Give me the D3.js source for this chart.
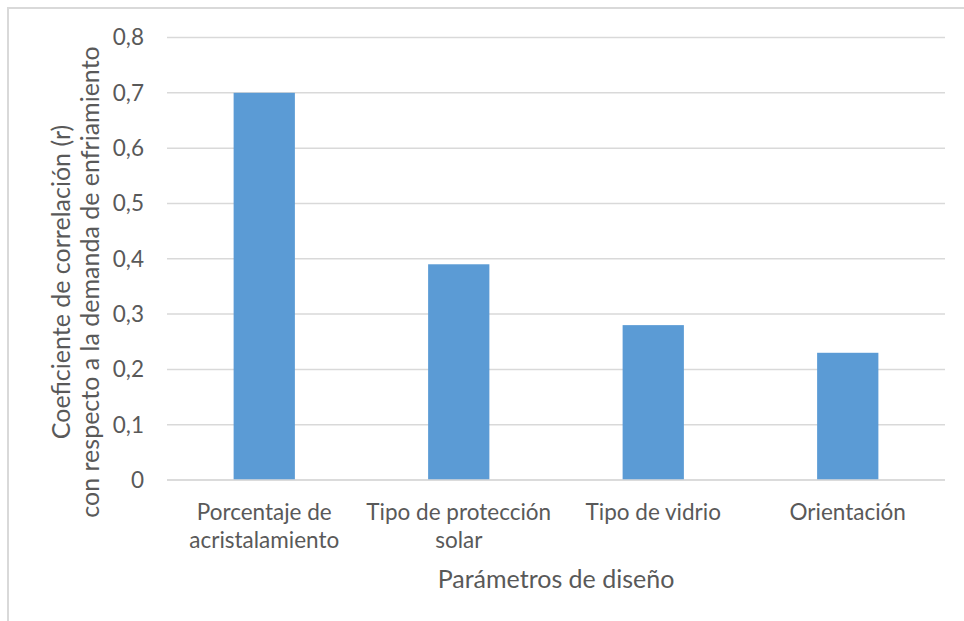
<!DOCTYPE html>
<html>
<head>
<meta charset="utf-8">
<script src="https://cdn.jsdelivr.net/npm/d3@7"></script>
<style>
  html, body { margin: 0; padding: 0; background: #fff; }
  svg { display: block; }
  text { font-family: Lato, "Open Sans", sans-serif; fill: #595959; }
</style>
</head>
<body>
<svg id="chart" width="964" height="621"></svg>
<script>
// Correlation of each design parameter with cooling demand
const categories = [
  "Porcentaje de acristalamiento",
  "Tipo de protección solar",
  "Tipo de vidrio",
  "Orientación"
];
const categoryLines = [
  ["Porcentaje de", "acristalamiento"],
  ["Tipo de protección", "solar"],
  ["Tipo de vidrio"],
  ["Orientación"]
];
const values = [0.70, 0.39, 0.28, 0.23];
const yTicks = [0, 0.1, 0.2, 0.3, 0.4, 0.5, 0.6, 0.7, 0.8];
const yTitleLines = ["Coeficiente de correlación (r)", "con respecto a la demanda de enfriamiento"];
const xTitle = "Parámetros de diseño";

const svg = d3.select("#chart");
const W = 964, H = 621;
const plot = { left: 167, right: 945, top: 37.5, bottom: 480 };

// outer chart frame (right and bottom edges fall outside the canvas)
svg.append("rect")
  .attr("x", 8).attr("y", 8)
  .attr("width", W + 20).attr("height", H + 20)
  .attr("fill", "#fff")
  .attr("stroke", "#d9d9d9").attr("stroke-width", 2);

const x = d3.scaleBand()
  .domain(categories)
  .range([plot.left, plot.right])
  .padding(0);
const barW = x.bandwidth() * 0.315;

const y = d3.scaleLinear()
  .domain([0, 0.8])
  .range([plot.bottom, plot.top]);

// horizontal gridlines
svg.append("g")
  .selectAll("line")
  .data(yTicks)
  .join("line")
  .attr("x1", plot.left).attr("x2", plot.right)
  .attr("y1", d => y(d)).attr("y2", d => y(d))
  .attr("stroke", "#d9d9d9").attr("stroke-width", 1.5);

// y tick labels (decimal comma)
const fmt = d => d === 0 ? "0" : d3.format(".1f")(d).replace(".", ",");
svg.append("g")
  .selectAll("text")
  .data(yTicks)
  .join("text")
  .attr("x", 144)
  .attr("y", d => y(d))
  .attr("dy", "0.35em")
  .attr("text-anchor", "end")
  .attr("font-size", 22.5)
  .text(fmt);

// bars
svg.append("g")
  .selectAll("rect")
  .data(values)
  .join("rect")
  .attr("x", (d, i) => x(categories[i]) + x.bandwidth() / 2 - barW / 2)
  .attr("y", d => y(d))
  .attr("width", barW)
  .attr("height", d => y(0) - y(d))
  .attr("fill", "#5b9bd5");

// baseline
svg.append("line")
  .attr("x1", plot.left).attr("x2", plot.right)
  .attr("y1", y(0)).attr("y2", y(0))
  .attr("stroke", "#d9d9d9").attr("stroke-width", 1.5);

// category labels
const catG = svg.append("g");
categories.forEach((c, i) => {
  const t = catG.append("text")
    .attr("text-anchor", "middle")
    .attr("font-size", 22.5);
  categoryLines[i].forEach((ln, j) => {
    t.append("tspan")
      .attr("x", x(c) + x.bandwidth() / 2)
      .attr("y", 520 + j * 28)
      .text(ln);
  });
});

// x axis title
svg.append("text")
  .attr("x", (plot.left + plot.right) / 2)
  .attr("y", 588)
  .attr("text-anchor", "middle")
  .attr("font-size", 25)
  .text(xTitle);

// y axis title (two lines, rotated)
const yt = svg.append("text")
  .attr("transform", "translate(0, 282) rotate(-90)")
  .attr("text-anchor", "middle")
  .attr("font-size", 25);
yTitleLines.forEach((ln, j) => {
  yt.append("tspan")
    .attr("x", 0)
    .attr("y", 70 + j * 29)
    .text(ln);
});
</script>
</body>
</html>
